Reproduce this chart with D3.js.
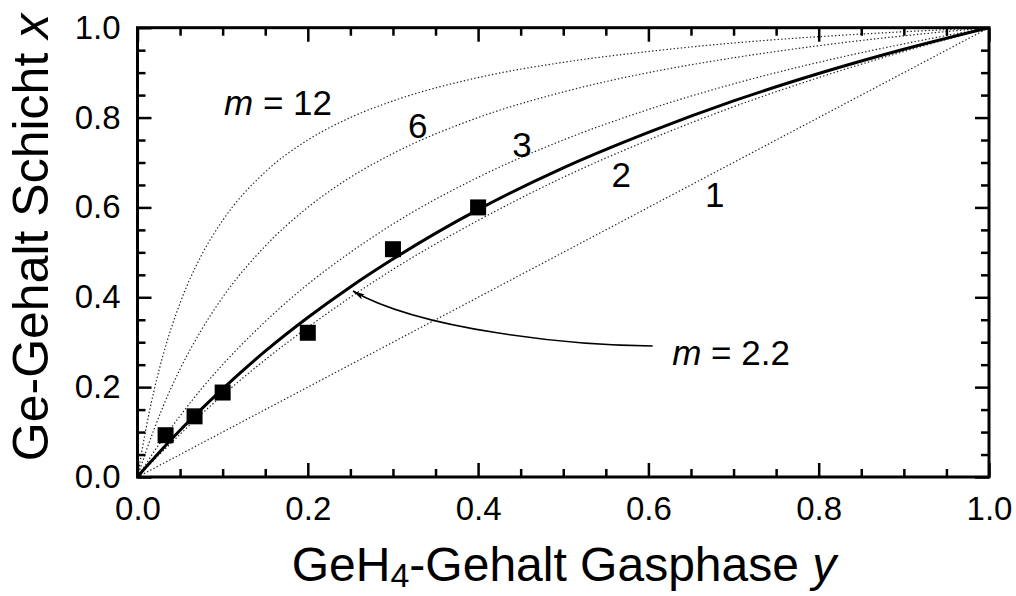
<!DOCTYPE html>
<html>
<head>
<meta charset="utf-8">
<script src="https://cdn.jsdelivr.net/npm/d3@7"></script>
<style>
  html, body { margin: 0; padding: 0; background: #fff; }
  svg { display: block; font-family: "Liberation Sans", Arial, sans-serif; }
</style>
</head>
<body>
<svg id="chart" width="1016" height="596"></svg>
<script>
// ---- data ----
const gasY = [0, 0.01, 0.02, 0.03, 0.05, 0.075, 0.1, 0.15, 0.2, 0.25, 0.3, 0.4, 0.5, 0.6, 0.7, 0.8, 0.9, 1.0];
const layerX_m12 = [0, 0.108, 0.197, 0.271, 0.387, 0.493, 0.571, 0.679, 0.750, 0.800, 0.837, 0.889, 0.923, 0.947, 0.966, 0.980, 0.991, 1.0];
const layerX_m6  = [0, 0.057, 0.109, 0.157, 0.240, 0.327, 0.400, 0.514, 0.600, 0.667, 0.720, 0.800, 0.857, 0.900, 0.933, 0.960, 0.982, 1.0];
const layerX_m3  = [0, 0.029, 0.058, 0.085, 0.136, 0.196, 0.250, 0.346, 0.429, 0.500, 0.563, 0.667, 0.750, 0.818, 0.875, 0.923, 0.964, 1.0];
const layerX_m2  = [0, 0.020, 0.039, 0.058, 0.095, 0.140, 0.182, 0.261, 0.333, 0.400, 0.462, 0.571, 0.667, 0.750, 0.824, 0.889, 0.947, 1.0];
const layerX_m1  = [0, 0.010, 0.020, 0.030, 0.050, 0.075, 0.100, 0.150, 0.200, 0.250, 0.300, 0.400, 0.500, 0.600, 0.700, 0.800, 0.900, 1.0];
const layerX_fit = [0, 0.022, 0.043, 0.064, 0.104, 0.151, 0.196, 0.280, 0.355, 0.423, 0.485, 0.595, 0.688, 0.767, 0.837, 0.898, 0.952, 1.0];

const measGasY   = [0.033, 0.067, 0.100, 0.200, 0.300, 0.400];
const measLayerX = [0.093, 0.135, 0.188, 0.321, 0.507, 0.600];

const majorTicks = [0, 0.2, 0.4, 0.6, 0.8, 1.0];
const minorTicks = [0.05,0.1,0.15,0.25,0.3,0.35,0.45,0.5,0.55,0.65,0.7,0.75,0.85,0.9,0.95];
const tickLabels = ["0.0", "0.2", "0.4", "0.6", "0.8", "1.0"];

const curveLabels = ["12", "6", "3", "2", "1"];

// ---- layout ----
const svg = d3.select("#chart");
const x = d3.scaleLinear().domain([0, 1]).range([137.5, 989]);
const y = d3.scaleLinear().domain([0, 1]).range([477, 27.7]);

const line = d3.line().x(d => x(d[0])).y(d => y(d[1])).curve(d3.curveMonotoneX);
const zipper = (a, b) => a.map((v, i) => [v, b[i]]);

// clip
svg.append("defs").append("clipPath").attr("id", "clip")
  .append("rect").attr("x", x(0)).attr("y", y(1)).attr("width", x(1) - x(0)).attr("height", y(0) - y(1));

svg.select("defs").append("marker")
  .attr("id", "arrow").attr("viewBox", "0 0 12 6").attr("refX", 12).attr("refY", 3)
  .attr("markerWidth", 12).attr("markerHeight", 6).attr("markerUnits", "userSpaceOnUse")
  .attr("orient", "auto")
  .append("path").attr("d", "M0,0 L12,3 L0,6 L3,3 Z").attr("fill", "#000");

const plot = svg.append("g").attr("clip-path", "url(#clip)");

// dotted model curves
[layerX_m12, layerX_m6, layerX_m3, layerX_m2, layerX_m1].forEach(arr => {
  plot.append("path").datum(zipper(gasY, arr))
    .attr("d", line).attr("fill", "none")
    .attr("stroke", "#222").attr("stroke-width", 1.2).attr("stroke-dasharray", "1.4,2.2");
});

// fit curve
plot.append("path").datum(zipper(gasY, layerX_fit))
  .attr("d", line).attr("fill", "none").attr("stroke", "#000").attr("stroke-width", 3);

// measured points
const sq = 16;
svg.append("g").selectAll("rect").data(zipper(measGasY, measLayerX)).join("rect")
  .attr("x", d => x(d[0]) - sq / 2).attr("y", d => y(d[1]) - sq / 2)
  .attr("width", sq).attr("height", sq).attr("fill", "#000");

// axes
function drawAxis(axisGen, transform, ticks, size, labels) {
  const g = svg.append("g").attr("transform", transform)
    .call(axisGen.tickValues(ticks).tickSize(-size)
      .tickFormat(labels ? (d, i) => labels[i] : () => ""));
  g.select(".domain").remove();
  g.selectAll(".tick line").attr("stroke", "#000").attr("stroke-width", 2.5);
  g.selectAll("text").attr("font-size", 33).attr("fill", "#000")
    .attr("font-family", "'Liberation Sans', Arial, sans-serif");
  return g;
}
const bottomT = `translate(0,${y(0)})`, topT = `translate(0,${y(1)})`;
const leftT = `translate(${x(0)},0)`, rightT = `translate(${x(1)},0)`;

drawAxis(d3.axisBottom(x).tickPadding(20), bottomT, majorTicks, 14, tickLabels);
drawAxis(d3.axisBottom(x), bottomT, minorTicks, 8, null);
drawAxis(d3.axisTop(x), topT, majorTicks, 14, null);
drawAxis(d3.axisTop(x), topT, minorTicks, 8, null);
drawAxis(d3.axisLeft(y).tickPadding(17), leftT, majorTicks, 14, tickLabels);
drawAxis(d3.axisLeft(y), leftT, minorTicks, 8, null);
drawAxis(d3.axisRight(y), rightT, majorTicks, 14, null);
drawAxis(d3.axisRight(y), rightT, minorTicks, 8, null);

// frame
svg.append("rect").attr("x", x(0)).attr("y", y(1))
  .attr("width", x(1) - x(0)).attr("height", y(0) - y(1))
  .attr("fill", "none").attr("stroke", "#000").attr("stroke-width", 3);

// curve labels
const lblFont = 35;
const t12 = svg.append("text").attr("x", x(0.1016)).attr("y", y(0.806))
  .attr("font-size", lblFont).attr("fill", "#000");
t12.append("tspan").attr("font-style", "italic").text("m");
t12.append("tspan").text(" = " + curveLabels[0]);

const simpleLabelPos = [[0.329, 0.7545], [0.4515, 0.712], [0.568, 0.6455], [0.678, 0.601]];
simpleLabelPos.forEach((p, i) => {
  svg.append("text").attr("x", x(p[0])).attr("y", y(p[1]))
    .attr("text-anchor", "middle").attr("font-size", lblFont).attr("fill", "#000")
    .text(curveLabels[i + 1]);
});

const tfit = svg.append("text").attr("x", x(0.628)).attr("y", y(0.249))
  .attr("font-size", lblFont).attr("fill", "#000");
tfit.append("tspan").attr("font-style", "italic").text("m");
tfit.append("tspan").text(" = 2.2");

// annotation arrow (data coords)
const p0 = [x(0.605), y(0.2916)], p3 = [x(0.253), y(0.414)];
const c1 = [x(0.508), y(0.293)], c2 = [x(0.332), y(0.3275)];
svg.append("path")
  .attr("d", `M${p0[0]},${p0[1]} C${c1[0]},${c1[1]} ${c2[0]},${c2[1]} ${p3[0]},${p3[1]}`)
  .attr("fill", "none").attr("stroke", "#000").attr("stroke-width", 1.5)
  .attr("marker-end", "url(#arrow)");

// axis titles
const xt = svg.append("text").attr("x", 564).attr("y", 581)
  .attr("text-anchor", "middle").attr("font-size", 48).attr("fill", "#000");
xt.append("tspan").text("GeH");
xt.append("tspan").attr("font-size", 34).attr("dy", 6).text("4");
xt.append("tspan").attr("dy", -6).text("-Gehalt Gasphase ");
xt.append("tspan").attr("font-style", "italic").text("y");

const yt = svg.append("text").attr("transform", "translate(48,237.5) rotate(-90)")
  .attr("text-anchor", "middle").attr("font-size", 50).attr("fill", "#000");
yt.append("tspan").text("Ge-Gehalt Schicht ");
yt.append("tspan").attr("font-style", "italic").text("x");
</script>
</body>
</html>
